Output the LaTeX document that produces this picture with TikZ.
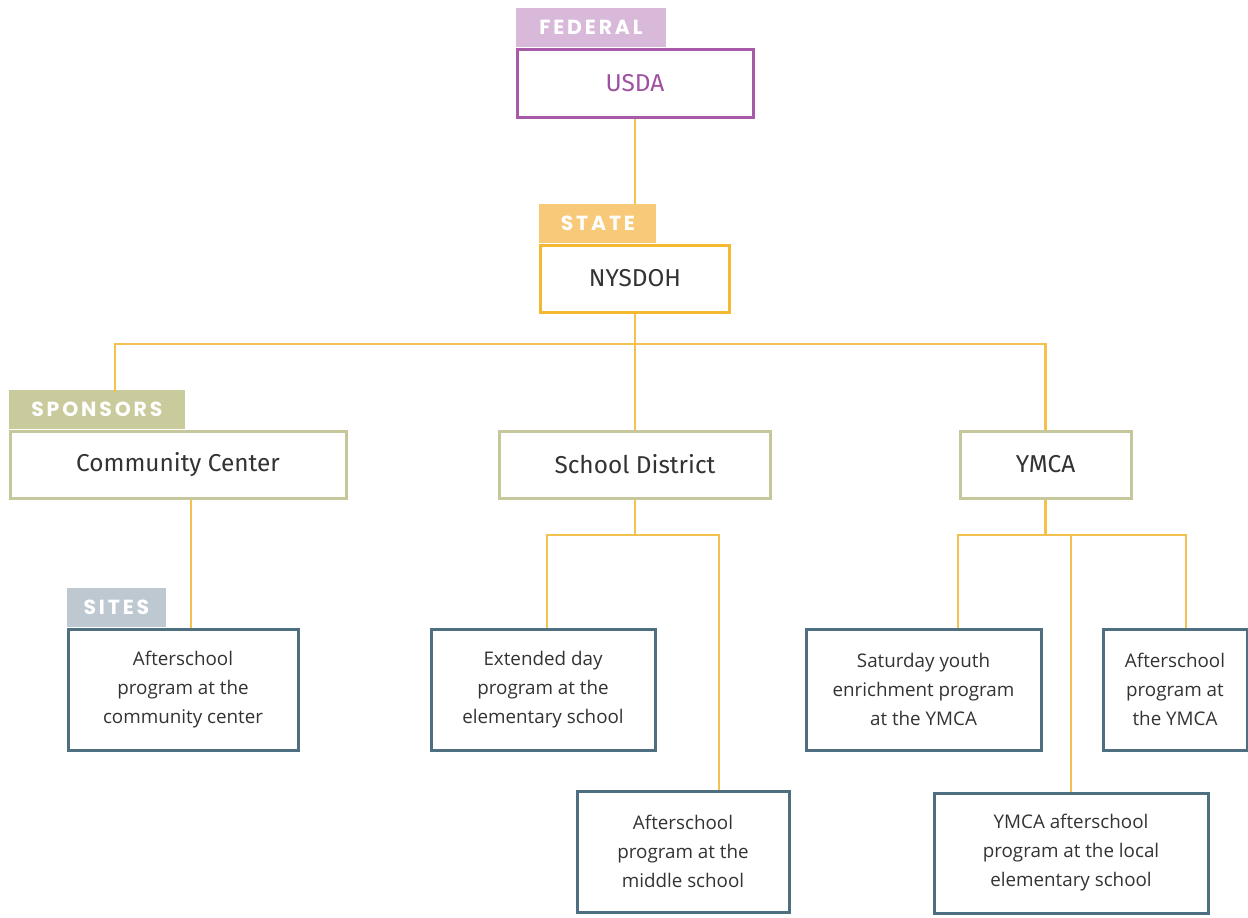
\documentclass[tikz,border=0pt]{standalone}
\usepackage{fontspec}
\setmainfont{Open Sans}
\newfontfamily\levelfont{Fira Sans}
\newfontfamily\tabfont[LetterSpace=14]{Poppins}
\usetikzlibrary{positioning}

\definecolor{fedline}{HTML}{A85AA8}
\definecolor{fedtab}{HTML}{D9B9D9}
\definecolor{fedtext}{HTML}{A050A0}
\definecolor{stateline}{HTML}{F4B832}
\definecolor{statetab}{HTML}{F8C978}
\definecolor{sponline}{HTML}{C6C89C}
\definecolor{spontab}{HTML}{C9CB9C}
\definecolor{siteline}{HTML}{4D6F7F}
\definecolor{sitetab}{HTML}{BDC8D1}
\definecolor{linkcol}{HTML}{F2C14E}
\definecolor{textcol}{HTML}{333333}

\begin{document}
\begin{tikzpicture}[x=0.5pt,y=-0.5pt,
  box/.style 2 args={draw, line width=1.5pt, fill=white, text=textcol, inner sep=0pt,
    minimum width=#1*0.5pt, minimum height=#2*0.5pt, align=center},
  level/.style={font=\levelfont\fontsize{12.2}{14}\selectfont},
  site/.style={draw=siteline, font=\fontsize{9.4}{14.5}\selectfont},
  tab/.style={anchor=south west, fill=#1, text=white, inner sep=0pt,
    minimum height=19.5pt, font=\tabfont\bfseries\fontsize{10.2}{11}\selectfont},
  link/.style={draw=linkcol, line width=1.2pt}]
\useasboundingbox (0,0) rectangle (1248,917);

% levels
\node[box={236}{68}, level, draw=fedline, text=fedtext] (usda) at (635,83) {USDA};
\node[box={189}{67}, level, draw=stateline] (nysdoh) at (635,278.5) {NYSDOH};
\node[box={336}{67}, level, draw=sponline] (cc) at (178,464.5) {Community Center};
\node[box={271}{67}, level, draw=sponline] (sd) at (635,464.5) {School District};
\node[box={171}{67}, level, draw=sponline] (ymca) at (1045.5,464.5) {YMCA};

% sites
\node[box={230}{121}, site] (ccsite) at (183,689.5) {Afterschool\\program at the\\community center};
\node[box={224}{121}, site] (extday) at (543,689.5) {Extended day\\program at the\\elementary school};
\node[box={212}{121}, site] (midsch) at (683,851.5) {Afterschool\\program at the\\middle school};
\node[box={235}{121}, site] (satyouth) at (923.5,689.5) {Saturday youth\\enrichment program\\at the YMCA};
\node[box={144}{121}, site] (ymcaafter) at (1175,689.5) {Afterschool\\program at\\the YMCA};
\node[box={274}{120}, site] (ymcaelem) at (1071,853) {YMCA afterschool\\program at the local\\elementary school};

% tabs
\node[tab=fedtab, minimum width=75pt] (fedtab) at (usda.north west) {FEDERAL};
\node[tab=statetab, minimum width=58.5pt] (sttab) at (nysdoh.north west) {STATE};
\node[tab=spontab, minimum width=88pt] (sptab) at (cc.north west) {SPONSORS};
\node[tab=sitetab, minimum width=49.5pt] (sitetab) at (ccsite.north west) {SITES};

% connectors
\coordinate (bus) at (635,344);
\coordinate (ccin) at (115,392);
\coordinate (sdfork) at (635,535);
\coordinate (yfork) at (1045.5,535);
\draw[link] (usda.south) -- (usda.south |- sttab.north);
\draw[link] (nysdoh.south) -- (sd.north);
\draw[link] (ymca.north) |- (bus) -| (ccin);
\draw[link] ([xshift=6.5pt]cc.south) -- ([xshift=4pt]ccsite.north);
\draw[link] (sd.south) -- (sdfork);
\draw[link] ([xshift=2pt]extday.north) |- (sdfork) -| ([xshift=18pt]midsch.north);
\draw[link] (ymca.south) -- (yfork);
\draw[link] ([xshift=17.25pt]satyouth.north) |- (yfork) -| ([xshift=5.5pt]ymcaafter.north);
\draw[link] (ymcaelem.north) -- (ymcaelem.north |- yfork);
\end{tikzpicture}
\end{document}
